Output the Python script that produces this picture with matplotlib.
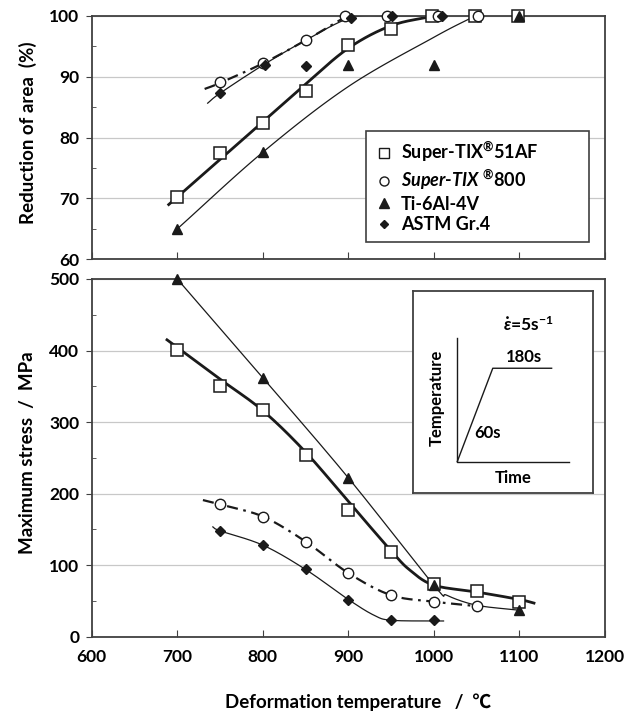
import numpy as np
import matplotlib
matplotlib.use("Agg")
import matplotlib.pyplot as plt
from matplotlib.lines import Line2D

plt.rcParams['font.family'] = ['Lato', 'DejaVu Sans']
plt.rcParams['font.weight'] = 'bold'
plt.rcParams['axes.labelweight'] = 'bold'
plt.rcParams['mathtext.fontset'] = 'custom'
plt.rcParams['mathtext.rm'] = 'Lato:bold'
plt.rcParams['mathtext.it'] = 'Lato:bold:italic'
plt.rcParams['mathtext.bf'] = 'Lato:bold'

# --- reduction of area (%) : markers
ra_temp_sq = [700, 750, 800, 850, 900, 950, 998, 1048, 1098]
ra_sq = [70.2, 77.4, 82.4, 87.6, 95.2, 97.9, 100, 100, 100]
ra_temp_ci = [750, 800, 850, 896, 945, 1005, 1052]
ra_ci = [89.1, 92.2, 96.1, 100, 100, 100, 100]
ra_temp_tr = [700, 800, 900, 1000, 1100]
ra_tr = [65.0, 77.6, 91.9, 91.9, 100]
ra_temp_di = [750, 802, 850, 903, 951, 1009]
ra_di = [87.3, 91.9, 91.7, 99.6, 100, 100]

# --- reduction of area : hand drawn trend curves
ra_curve_sq_x = [690, 750, 800, 850, 900, 950, 1000]
ra_curve_sq_y = [69.0, 76.4, 82.6, 88.8, 94.7, 98.4, 100]
ra_curve_tr_x = [700, 800, 900, 1000, 1048]
ra_curve_tr_y = [65.0, 77.6, 88.4, 96.5, 100]
ra_curve_ci_x = [732, 750, 800, 850, 896]
ra_curve_ci_y = [88.0, 89.0, 92.2, 96.0, 99.8]
ra_curve_di_x = [735, 750, 800, 850, 903, 950, 1009]
ra_curve_di_y = [85.6, 87.3, 91.9, 96.0, 99.7, 100, 100]

# --- maximum stress (MPa) : markers
ms_temp_sq = [700, 750, 800, 850, 900, 950, 1000, 1050, 1100]
ms_sq = [401, 350, 317, 254, 177, 119, 74, 64, 49]
ms_temp_ci = [750, 800, 850, 900, 950, 1000, 1050]
ms_ci = [185, 168, 133, 89, 58, 49, 43]
ms_temp_tr = [700, 800, 900, 1000, 1100]
ms_tr = [500, 362, 222, 72, 37]
ms_temp_di = [750, 800, 850, 900, 950, 1000]
ms_di = [148, 128, 94, 51, 23, 23]

# --- maximum stress : trend curves
ms_curve_sq_x = [688, 750, 800, 850, 900, 950, 972, 1000, 1050, 1100, 1117]
ms_curve_sq_y = [415, 360, 316, 258, 189, 120, 93, 72, 62.5, 52, 47]
ms_curve_tr_x = [700, 800, 900, 1000, 1015, 1050, 1100]
ms_curve_tr_y = [500, 362, 222, 72, 58, 44, 37]
ms_curve_ci_x = [730, 750, 800, 850, 900, 950, 1000, 1048]
ms_curve_ci_y = [191, 185, 168, 133, 89, 58, 49, 43]
ms_curve_di_x = [741, 750, 800, 850, 900, 930, 950, 1000, 1012]
ms_curve_di_y = [154, 148, 128, 94, 52, 30, 23, 22, 22]

labels = ["Super-TIX${}^{\u00ae}$51AF",
          "$\\mathit{Super}$-$\\mathit{TIX}$ ${}^{\u00ae}$800",
          "Ti-6Al-4V", "ASTM Gr.4"]

# inset schematic (axes fraction)
sch_axis_x = [0.245, 0.245, 0.870]
sch_axis_y = [0.768, 0.154, 0.154]
sch_prof_x = [0.245, 0.443, 0.771]
sch_prof_y = [0.154, 0.617, 0.617]

INK = '#1a1a1a'
SPINE = '#404040'


def smooth(xs, ys, n=24):
    # catmull-rom through the knots
    p = np.column_stack([xs, ys]).astype(float)
    p = np.vstack([2 * p[0] - p[1], p, 2 * p[-1] - p[-2]])
    out = []
    t = np.linspace(0, 1, n)[:, None]
    for i in range(1, len(p) - 2):
        p0, p1, p2, p3 = p[i - 1], p[i], p[i + 1], p[i + 2]
        seg = 0.5 * ((2 * p1) + (-p0 + p2) * t + (2 * p0 - 5 * p1 + 4 * p2 - p3) * t ** 2
                     + (-p0 + 3 * p1 - 3 * p2 + p3) * t ** 3)
        out.append(seg if i == 1 else seg[1:])
    out = np.vstack(out)
    return out[:, 0], out[:, 1]


def style_axes(ax, major, minor):
    for s in ax.spines.values():
        s.set_color(SPINE)
        s.set_linewidth(1.3)
    ax.set_xlim(600, 1200)
    ax.set_xticks(np.arange(600, 1201, 100))
    ax.set_yticks(major)
    ax.set_yticks(minor, minor=True)
    ax.yaxis.grid(True, color='#c8c8c8', lw=0.9)
    ax.set_axisbelow(True)
    ax.tick_params(axis='x', direction='in', length=5, color=SPINE, labelsize=12.5, pad=9)
    ax.tick_params(axis='y', which='major', direction='out', length=4, color=SPINE, labelsize=12.5, pad=5)
    ax.tick_params(axis='y', which='minor', direction='in', length=3, color=SPINE)


def draw_set(ax, curves, marks):
    thin = dict(color=INK, lw=0.9, solid_capstyle='butt')
    (sx, sy), (tx, ty), (cx, cy), (dx, dy) = curves
    ax.plot(*smooth(sx, sy), color=INK, lw=2.0)
    ax.plot(*smooth(tx, ty), **thin)
    ax.plot(*smooth(cx, cy), color=INK, lw=1.6, linestyle=(0, (5, 2.5, 1.2, 2.5)))
    ax.plot(*smooth(dx, dy), **thin)
    (msx, msy), (mcx, mcy), (mtx, mty), (mdx, mdy) = marks
    ax.plot(msx, msy, 's', ms=8, mfc='white', mec=INK, mew=1.1, ls='none', clip_on=False, zorder=5)
    ax.plot(mtx, mty, '^', ms=7, color=INK, mec=INK, ls='none', clip_on=False, zorder=6)
    ax.plot(mcx, mcy, 'o', ms=7.5, mfc='white', mec=INK, mew=1.0, ls='none', clip_on=False, zorder=7)
    ax.plot(mdx, mdy, 'D', ms=5, color=INK, ls='none', clip_on=False, zorder=8)


fig = plt.figure(figsize=(6.4, 7.13), dpi=100)
ax1 = fig.add_axes([0.1433, 0.6363, 0.802, 0.3413])
ax2 = fig.add_axes([0.1433, 0.1070, 0.802, 0.5017])

style_axes(ax1, np.arange(60, 101, 10), np.arange(65, 100, 10))
ax1.set_ylim(60, 100)
ax1.tick_params(axis='x', labelbottom=False)
draw_set(ax1,
         [(ra_curve_sq_x, ra_curve_sq_y), (ra_curve_tr_x, ra_curve_tr_y),
          (ra_curve_ci_x, ra_curve_ci_y), (ra_curve_di_x, ra_curve_di_y)],
         [(ra_temp_sq, ra_sq), (ra_temp_ci, ra_ci), (ra_temp_tr, ra_tr), (ra_temp_di, ra_di)])
ax1.set_ylabel("Reduction of area  (%)", fontsize=13.5, va='center')
ax1.yaxis.set_label_coords(-0.125, 0.521)

style_axes(ax2, np.arange(0, 501, 100), np.arange(50, 500, 100))
ax2.set_ylim(0, 500)
draw_set(ax2,
         [(ms_curve_sq_x, ms_curve_sq_y), (ms_curve_tr_x, ms_curve_tr_y),
          (ms_curve_ci_x, ms_curve_ci_y), (ms_curve_di_x, ms_curve_di_y)],
         [(ms_temp_sq, ms_sq), (ms_temp_ci, ms_ci), (ms_temp_tr, ms_tr), (ms_temp_di, ms_di)])
ax2.set_ylabel("Maximum stress  /  MPa", fontsize=13.5, va='center')
ax2.yaxis.set_label_coords(-0.125, 0.514)
ax2.set_xlabel("Deformation temperature   /  \u2103", fontsize=13.5, va='center',
               fontfamily=['Lato', 'Noto Sans CJK JP'])
ax2.xaxis.set_label_coords(0.520, -0.182)

handles = [
    Line2D([], [], marker='s', ms=6.5, mfc='white', mec=INK, mew=1.0, ls='none'),
    Line2D([], [], marker='o', ms=6.5, mfc='white', mec=INK, mew=1.0, ls='none'),
    Line2D([], [], marker='^', ms=6.5, color=INK, ls='none'),
    Line2D([], [], marker='D', ms=4.5, color=INK, ls='none'),
]
leg = ax1.legend(handles, labels, loc='upper left', mode='expand',
                 bbox_to_anchor=(365.7 / 640, 1 - 237.3 / 713, 223.6 / 640, 106.3 / 713),
                 bbox_transform=fig.transFigure,
                 fontsize=13, frameon=True, fancybox=False, borderaxespad=0,
                 handlelength=1.0, handletextpad=0.45, labelspacing=0.2, borderpad=0.5)
leg.get_frame().set_edgecolor(SPINE)
leg.get_frame().set_linewidth(1.2)
leg.get_frame().set_alpha(1)

# inset heating schedule
ins = fig.add_axes([413.3 / 640, 1 - 492.7 / 713, 179.4 / 640, 201.7 / 713])
ins.set_xlim(0, 1)
ins.set_ylim(0, 1)
ins.set_xticks([])
ins.set_yticks([])
for s in ins.spines.values():
    s.set_color(SPINE)
    s.set_linewidth(1.3)
ins.plot(sch_axis_x, sch_axis_y, color=INK, lw=1.0)
ins.plot(sch_prof_x, sch_prof_y, color=INK, lw=1.0)
ins.text(0.616, 0.675, "180s", ha='center', va='center', fontsize=12)
ins.text(0.413, 0.295, "60s", ha='center', va='center', fontsize=12)
ins.text(0.130, 0.468, "Temperature", ha='center', va='center', rotation=90, fontsize=12)
ins.text(0.557, 0.071, "Time", ha='center', va='center', fontsize=12)
ins.text(0.642, 0.832, r"$\dot{\varepsilon}$=5s$^{-1}$", ha='center', va='center', fontsize=12.5)

fig.savefig("out.png", dpi=100)
